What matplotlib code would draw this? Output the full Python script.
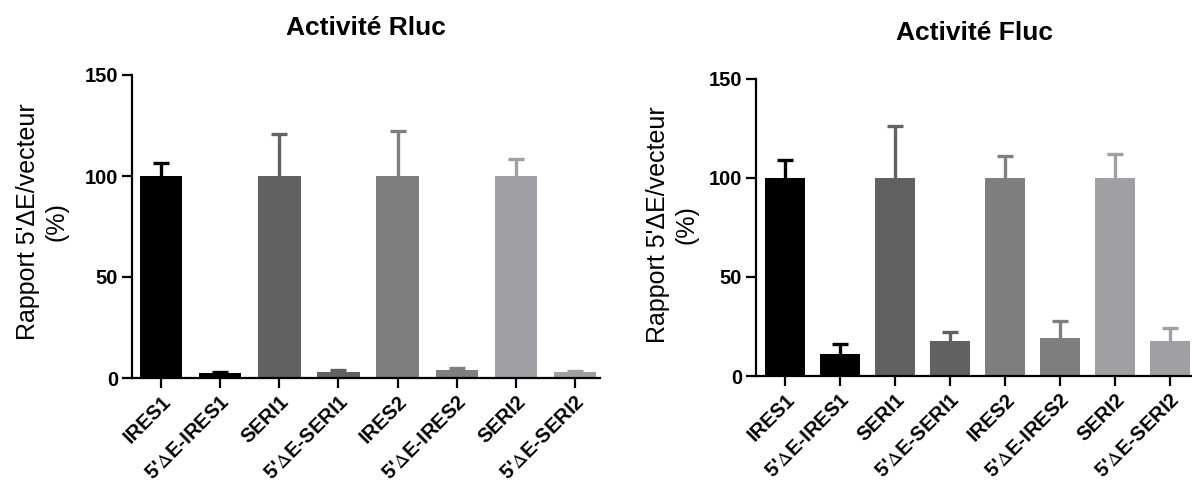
import matplotlib
matplotlib.use("Agg")
import matplotlib.pyplot as plt
import matplotlib.transforms as mtransforms
import numpy as np

categories = ["IRES1", "5'ΔE-IRES1", "SERI1", "5'ΔE-SERI1",
              "IRES2", "5'ΔE-IRES2", "SERI2", "5'ΔE-SERI2"]
rluc_values = [100, 2.5, 100, 3.2, 100, 3.8, 100, 2.8]
rluc_errors = [6.6, 0.6, 20.7, 0.6, 22.3, 1.2, 8.6, 0.6]
fluc_values = [100, 10.9, 100, 17.6, 100, 19.2, 100, 17.9]
fluc_errors = [9.2, 5.2, 26.1, 4.7, 11.2, 8.4, 12.2, 6.5]
bar_colors = ["#000000", "#000000", "#616161", "#616161",
              "#7f7f7f", "#7f7f7f", "#a0a0a4", "#a0a0a4"]
yticks = [0, 50, 100, 150]
titles = ["Activité Rluc", "Activité Fluc"]
ylabel = "Rapport 5'ΔE/vecteur\n(%)"

plt.rcParams['font.family'] = ['Liberation Sans', 'DejaVu Sans']
plt.rcParams['mathtext.fontset'] = 'stix'

W, H = 1192, 488
fig = plt.figure(figsize=(W / 100, H / 100), dpi=100)

def disp_label(s):
    return s.replace("Δ", r"$\Delta$")

def panel(rect, values, errors, title, xlim, title_y, ylabel_xy):
    ax = fig.add_axes(rect)
    x = np.arange(len(categories))
    ax.bar(x, values, width=0.72, color=bar_colors, zorder=2)
    for xi, v, e, c in zip(x, values, errors, bar_colors):
        _, caps, _ = ax.errorbar(xi, v, yerr=[[0], [e]], color=c,
                                 elinewidth=2.4, capsize=6, capthick=2.4,
                                 zorder=1)
        if len(caps) == 2:
            caps[0].set_visible(False)
    ax.set_ylim(0, 150)
    ax.set_xlim(*xlim)
    ax.set_yticks(yticks)
    ax.set_xticks(x)
    ax.set_xticklabels([disp_label(c) for c in categories], rotation=45,
                       ha='right', va='top', rotation_mode='anchor',
                       fontsize=14.5, fontweight='bold')
    shift = mtransforms.ScaledTranslation(-0.07, 0.0, fig.dpi_scale_trans)
    for lab in ax.get_xticklabels():
        lab.set_transform(lab.get_transform() + shift)
    for lab in ax.get_yticklabels():
        lab.set_fontsize(14.5)
        lab.set_fontweight('bold')
    for s in ['top', 'right']:
        ax.spines[s].set_visible(False)
    for s in ['left', 'bottom']:
        ax.spines[s].set_linewidth(1.6)
    ax.tick_params(axis='both', direction='out', length=7, width=1.6, pad=3)
    ax.tick_params(axis='x', pad=3)
    fig.text(ylabel_xy[0] / W, 1 - ylabel_xy[1] / H, ylabel, rotation=90,
             ha='center', va='center', multialignment='center',
             fontsize=18, linespacing=1.25)
    fig.text(rect[0] + rect[2] / 2, title_y, title, ha='center', va='center',
             fontsize=19, fontweight='bold')
    return ax

panel([132 / W, 1 - 378 / H, 468 / W, 303 / H],
      rluc_values, rluc_errors, titles[0], (-0.49, 7.42), 1 - 28 / H, (42, 222))
panel([756 / W, 1 - 376 / H, 436 / W, 297 / H],
      fluc_values, fluc_errors, titles[1], (-0.53, 7.4), 1 - 33 / H, (672, 225))

fig.savefig("out.png", dpi=100)
